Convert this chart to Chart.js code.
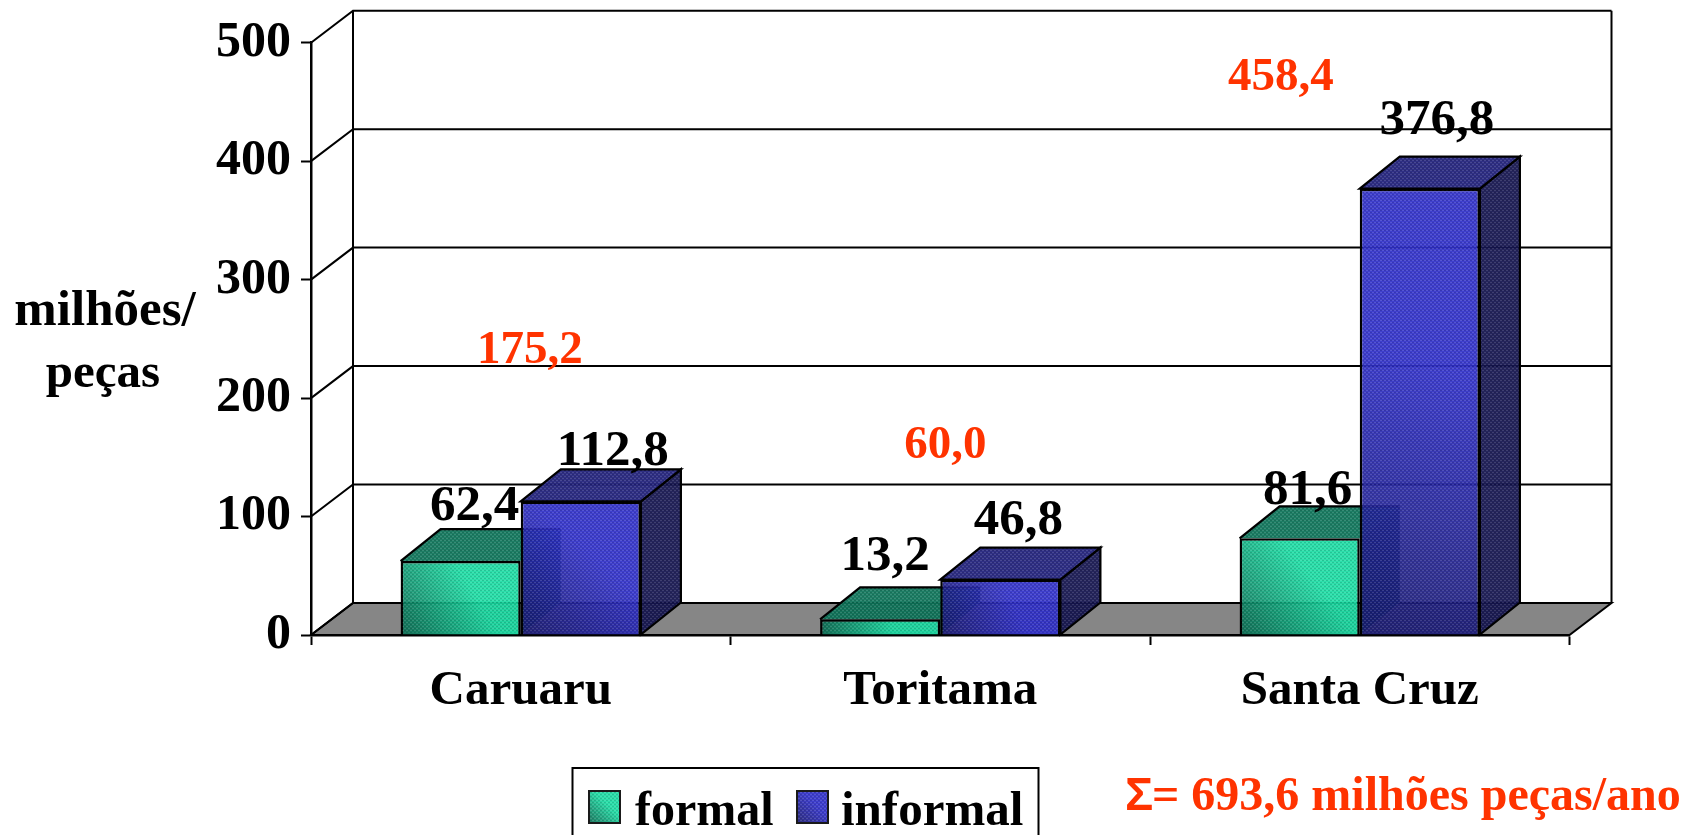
<!DOCTYPE html>
<html lang="pt">
<head>
<meta charset="utf-8">
<title>Produção de peças</title>
<script src="https://cdn.jsdelivr.net/npm/chart.js@4/dist/chart.umd.min.js"></script>
<style>
html,body{margin:0;padding:0;background:#fff;overflow:hidden}
canvas{display:block}
</style>
</head>
<body>
<canvas id="c" width="1696" height="835"></canvas>
<script>
const categories = ['Caruaru', 'Toritama', 'Santa Cruz'];
const formal = [62.4, 13.2, 81.6];
const informal = [112.8, 46.8, 376.8];
const totals = [175.2, 60.0, 458.4];
const yTicks = [0, 100, 200, 300, 400, 500];
const axisTitle = ['milhões/', 'peças'];
const sumNote = '= 693,6 milhões peças/ano';

const SERIF = '"Liberation Serif", serif';
const SANS = '"Liberation Sans", sans-serif';
const RED = '#FF3300';
const WALL = { dx: 42, dy: 32 };
const DEPTH = { dx: 40, dy: 32 };
// hand-placed label anchors of the reference (offset from bar centre / front top)
const VALUE_OFFSETS = [
  [[14, -41], [5, -49], [8, -34]],
  [[32, -36], [18, -46], [17, -55]]
];
const TOTAL_ANCHORS = [[9, 363], [5, 458], [-79, 90]];

const fmt = v => v.toFixed(1).replace('.', ',');

const dots = document.createElement('canvas');
dots.width = 4; dots.height = 4;
(function () {
  const d = dots.getContext('2d');
  d.fillStyle = 'rgba(255,255,255,0.12)';
  d.fillRect(0, 0, 2, 1);
  d.fillRect(2, 2, 2, 1);
  d.fillStyle = 'rgba(0,0,0,0.12)';
  d.fillRect(2, 0, 2, 1);
  d.fillRect(0, 2, 2, 1);
})();

const PALETTE = [
  { hi: 'rgba(20,218,160,0.90)', lo: 'rgba(8,105,80,0.90)', top: 'rgba(12,115,88,0.93)', side: 'rgba(8,85,66,0.92)' },
  { hi: 'rgba(46,46,200,0.92)', lo: 'rgba(24,24,112,0.90)', top: 'rgba(36,36,125,0.95)', side: 'rgba(20,20,80,0.93)' }
];

function frontGradient(ctx, i, x1, x2, yTop, yBot) {
  const g = ctx.createLinearGradient(x1, yBot, x2, yTop);
  g.addColorStop(0, PALETTE[i].lo);
  g.addColorStop(0.6, PALETTE[i].hi);
  g.addColorStop(1, PALETTE[i].hi);
  return g;
}

function scriptedFill(i) {
  return function (c) {
    const ch = c.chart;
    const xs = ch.scales.x, ys = ch.scales.y;
    if (!xs || !ys || c.dataIndex === undefined) return PALETTE[i].hi;
    const cx = xs.getPixelForTick(c.dataIndex);
    const w = xs.width / categories.length * 0.5728 / 2;
    const x1 = i === 0 ? cx - w : cx;
    const x2 = i === 0 ? cx : cx + w;
    const v = c.dataset.data[c.dataIndex];
    const yt = ys.getPixelForValue(v), yb = ys.getPixelForValue(0);
    if (![x1, x2, yt, yb].every(Number.isFinite)) return PALETTE[i].hi;
    return frontGradient(ch.ctx, i, x1, x2, yt, yb);
  };
}

function poly(ctx, pts, fill) {
  ctx.beginPath();
  pts.forEach((p, k) => k ? ctx.lineTo(p[0], p[1]) : ctx.moveTo(p[0], p[1]));
  ctx.closePath();
  if (fill) {
    ctx.fillStyle = fill;
    ctx.fill();
  }
}

function drawFaces(chart, index, meta) {
  const { ctx } = chart;
  const pat = ctx.createPattern(dots, 'repeat');
  const pal = PALETTE[index];
  ctx.save();
  ctx.lineWidth = 2.2;
  ctx.strokeStyle = '#000';
  ctx.lineJoin = 'miter';
  meta.data.forEach(el => {
    const x1 = el.x - el.width / 2, x2 = el.x + el.width / 2;
    const t = el.y, b = el.base;
    const side = [[x2, t], [x2 + DEPTH.dx, t - DEPTH.dy], [x2 + DEPTH.dx, b - DEPTH.dy], [x2, b]];
    const top = [[x1, t], [x1 + DEPTH.dx, t - DEPTH.dy], [x2 + DEPTH.dx, t - DEPTH.dy], [x2, t]];
    poly(ctx, side, pal.side);
    poly(ctx, side, pat);
    if (index === 1) ctx.stroke();
    poly(ctx, top, pal.top);
    poly(ctx, top, pat);
    if (index === 1) {
      ctx.stroke();
    } else {
      ctx.beginPath();
      ctx.moveTo(x1, t);
      ctx.lineTo(x1 + DEPTH.dx, t - DEPTH.dy);
      ctx.lineTo(x2 + DEPTH.dx, t - DEPTH.dy);
      ctx.stroke();
    }
  });
  ctx.restore();
}

function drawFrontTexture(chart, meta) {
  const { ctx } = chart;
  const pat = ctx.createPattern(dots, 'repeat');
  ctx.save();
  meta.data.forEach(el => {
    ctx.fillStyle = pat;
    ctx.fillRect(el.x - el.width / 2 + 2, el.y + 2, el.width - 4, el.base - el.y - 4);
  });
  ctx.restore();
}

const scene3d = {
  id: 'scene3d',
  beforeDatasetsDraw(chart) {
    const { ctx, chartArea: a, scales: { y } } = chart;
    const y0 = y.getPixelForValue(0);
    ctx.save();
    ctx.lineWidth = 2;
    ctx.strokeStyle = '#000';
    poly(ctx, [[a.left, y0], [a.left + WALL.dx, y0 - WALL.dy], [a.right + WALL.dx, y0 - WALL.dy], [a.right, y0]], '#868686');
    ctx.stroke();
    yTicks.forEach(t => {
      const py = y.getPixelForValue(t);
      ctx.beginPath();
      ctx.moveTo(a.left, py);
      ctx.lineTo(a.left + WALL.dx, py - WALL.dy);
      ctx.lineTo(a.right + WALL.dx, py - WALL.dy);
      ctx.stroke();
    });
    ctx.beginPath();
    ctx.moveTo(a.left + WALL.dx, a.top - WALL.dy);
    ctx.lineTo(a.left + WALL.dx, y0 - WALL.dy);
    ctx.moveTo(a.right + WALL.dx, a.top - WALL.dy);
    ctx.lineTo(a.right + WALL.dx, y0 - WALL.dy);
    ctx.stroke();
    ctx.restore();

    // formal first, informal over it, so the informal bar's translucent front shows the formal bar through it
    chart.data.datasets.forEach((ds, i) => {
      const meta = chart.getDatasetMeta(i);
      drawFaces(chart, i, meta);
      meta.controller.draw();
      drawFrontTexture(chart, meta);
    });
  },
  beforeDatasetDraw() {
    return false; // already painted in the order above
  },
  afterDatasetsDraw(chart) {
    const { ctx, scales: { x }, data } = chart;
    ctx.save();
    ctx.textAlign = 'center';
    ctx.textBaseline = 'alphabetic';

    ctx.fillStyle = '#000';
    ctx.font = 'bold 51px ' + SERIF;
    data.datasets.forEach((ds, i) => {
      chart.getDatasetMeta(i).data.forEach((el, j) => {
        const off = VALUE_OFFSETS[i][j];
        ctx.fillText(fmt(ds.data[j]), el.x + off[0], el.y + off[1]);
      });
    });

    ctx.fillStyle = RED;
    ctx.font = 'bold 47px ' + SERIF;
    totals.forEach((v, j) => {
      ctx.fillText(fmt(v), x.getPixelForTick(j) + TOTAL_ANCHORS[j][0], TOTAL_ANCHORS[j][1]);
    });

    ctx.fillStyle = '#000';
    ctx.font = 'bold 51px ' + SERIF;
    ctx.fillText(axisTitle[0], 105, 325);
    ctx.font = 'bold 49px ' + SERIF;
    ctx.fillText(axisTitle[1], 103, 387);

    // legend
    ctx.lineWidth = 2;
    ctx.strokeStyle = '#000';
    ctx.strokeRect(572.5, 768, 466, 100);
    const items = [
      { sx: 589, tx: 635, size: 48 },
      { sx: 797, tx: 841, size: 49 }
    ];
    ctx.textAlign = 'left';
    data.datasets.forEach((ds, i) => {
      const it = items[i];
      const g = frontGradient(ctx, i, it.sx, it.sx + 31, 791, 823);
      ctx.fillStyle = '#fff';
      ctx.fillRect(it.sx, 791, 31, 32);
      ctx.fillStyle = g;
      ctx.fillRect(it.sx, 791, 31, 32);
      ctx.fillStyle = ctx.createPattern(dots, 'repeat');
      ctx.fillRect(it.sx, 791, 31, 32);
      ctx.lineWidth = 2;
      ctx.strokeStyle = '#1a1a1a';
      ctx.strokeRect(it.sx, 791, 31, 32);
      ctx.fillStyle = '#000';
      ctx.font = 'bold ' + it.size + 'px ' + SERIF;
      ctx.fillText(ds.label, it.tx, 825);
    });

    // sum note
    ctx.fillStyle = RED;
    ctx.font = 'bold 47px ' + SANS;
    ctx.fillText('Σ', 1125, 810);
    ctx.font = 'bold 48px ' + SERIF;
    ctx.fillText(sumNote, 1152, 810);
    ctx.restore();
  }
};

new Chart(document.getElementById('c'), {
  type: 'bar',
  data: {
    labels: categories,
    datasets: [
      { label: 'formal', data: formal, backgroundColor: scriptedFill(0), borderColor: '#000', borderWidth: 2.5 },
      { label: 'informal', data: informal, backgroundColor: scriptedFill(1), borderColor: '#000', borderWidth: 2.5 }
    ]
  },
  options: {
    responsive: false,
    animation: false,
    layout: { padding: { top: 42.7, right: 126.5, bottom: 0, left: 0 } },
    datasets: { bar: { barPercentage: 1, categoryPercentage: 0.5728 } },
    plugins: { legend: { display: false }, tooltip: { enabled: false }, title: { display: false } },
    scales: {
      x: {
        offset: true,
        afterFit(s) { s.height = 200; },
        border: { color: '#000', width: 2.5 },
        grid: { offset: true, drawOnChartArea: false, drawTicks: true, tickLength: 10, tickColor: '#000', tickWidth: 2 },
        ticks: { color: '#000', padding: 17, maxRotation: 0, autoSkip: false, font: { family: SERIF, weight: 'bold', size: 49 } }
      },
      y: {
        min: 0,
        max: 500,
        afterFit(s) { s.width = 311; },
        afterBuildTicks(s) { s.ticks = yTicks.map(value => ({ value })); },
        border: { color: '#000', width: 2.5 },
        grid: { drawOnChartArea: false, drawTicks: true, tickLength: 10, tickColor: '#000', tickWidth: 2 },
        ticks: { color: '#000', padding: 10, font: { family: SERIF, weight: 'bold', size: 50 } }
      }
    }
  },
  plugins: [scene3d]
});
</script>
</body>
</html>
